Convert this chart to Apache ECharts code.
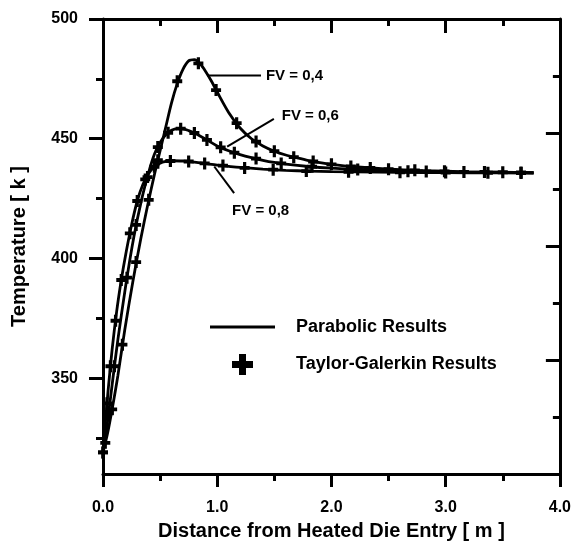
<!DOCTYPE html>
<html><head><meta charset="utf-8">
<script src="https://cdn.jsdelivr.net/npm/echarts@6/dist/echarts.min.js"></script>
<style>html,body{margin:0;padding:0;background:#fff}#c{width:574px;height:546px}</style>
</head><body><div id="c"></div>
<script>
// ---------- data ----------
const xTickLabels = ['0.0', '1.0', '2.0', '3.0', '4.0'];
const yTickValues = [350, 400, 450, 500];
const yMinorTickValues = [325, 375, 425, 475];

// Parabolic results (curves)
const fv04X = [0, 0.04, 0.08, 0.13, 0.19, 0.26, 0.33, 0.39, 0.45, 0.5, 0.55, 0.6, 0.65, 0.7, 0.75, 0.8, 0.85, 0.9, 0.95, 1.0, 1.1, 1.2, 1.3, 1.4, 1.5, 1.6, 1.7, 1.8, 1.9, 2.0, 2.2, 2.5, 2.8, 3.2, 3.77];
const fv04Y = [319, 327, 337, 351, 370, 390, 408, 422, 435, 445, 455, 465, 473, 479, 482.5, 483, 481.3, 478, 474, 469.5, 461, 454.5, 450, 447, 444.8, 443.2, 442, 440.9, 440, 439.3, 438.3, 437.3, 436.7, 436.2, 435.8];

const fv06X = [0, 0.04, 0.087, 0.13, 0.2, 0.27, 0.34, 0.4, 0.45, 0.5, 0.55, 0.6, 0.65, 0.7, 0.75, 0.8, 0.9, 1.0, 1.1, 1.2, 1.3, 1.4, 1.5, 1.6, 1.8, 2.0, 2.3, 2.6, 3.0, 3.4, 3.77];
const fv06Y = [319, 332, 350, 366, 389, 409, 425, 436, 443.5, 448.5, 451.7, 453.5, 454.2, 454.1, 453.4, 452.4, 449.8, 447, 445, 443.4, 442.1, 441, 440.1, 439.4, 438.4, 437.7, 437, 436.5, 436.2, 436, 435.8];

const fv08X = [0, 0.02, 0.045, 0.08, 0.12, 0.16, 0.2, 0.25, 0.3, 0.35, 0.4, 0.45, 0.5, 0.55, 0.6, 0.7, 0.8, 0.9, 1.0, 1.2, 1.4, 1.6, 1.8, 2.0, 2.4, 2.8, 3.2, 3.77];
const fv08Y = [319, 331, 345, 362, 378, 391, 402, 414, 424, 431, 435.5, 438.3, 439.8, 440.5, 440.8, 440.7, 440.2, 439.6, 439, 438, 437.3, 436.8, 436.5, 436.3, 436.1, 435.9, 435.8, 435.7];

// Taylor-Galerkin results (markers)
const tg04X = [0.02, 0.08, 0.17, 0.29, 0.40, 0.48, 0.65, 0.835, 0.99, 1.17, 1.34, 1.50, 1.67, 1.84, 2.0, 2.17, 2.34, 2.5, 2.73, 2.99, 3.34, 3.66];
const tg04Y = [323, 337, 364, 398.5, 424.5, 441, 474, 481.5, 470.3, 456.5, 448.8, 444.8, 442.3, 440.5, 439.3, 438.4, 437.8, 437.3, 436.8, 436.4, 436.1, 435.9];

const tg06X = [0.0, 0.05, 0.1, 0.21, 0.29, 0.39, 0.48, 0.57, 0.68, 0.80, 0.91, 1.03, 1.15, 1.34, 1.56, 1.83, 2.23, 2.67, 2.83, 3.16, 3.5];
const tg06Y = [319, 335.5, 355, 392, 414, 434, 446.5, 452.5, 454.2, 452.4, 449.5, 446.4, 444.2, 441.7, 439.7, 438.3, 437.2, 436.4, 436.3, 436.1, 436];

const tg08X = [0.0, 0.035, 0.065, 0.11, 0.16, 0.235, 0.30, 0.37, 0.45, 0.59, 0.75, 0.89, 1.05, 1.24, 1.49, 1.78, 2.15, 2.6, 3.0, 3.37, 3.66];
const tg08Y = [319, 339.5, 355, 374, 391, 410.5, 424, 433, 438.3, 440.7, 440.5, 439.7, 438.8, 437.8, 437.1, 436.5, 436.2, 436, 435.85, 435.8, 435.7];

const curveNames = ['FV = 0,4', 'FV = 0,6', 'FV = 0,8'];
const legendNames = ['Parabolic Results', 'Taylor-Galerkin Results'];
const xTitle = 'Distance from Heated Die Entry [ m ]';
const yTitle = 'Temperature [ k ]';

// annotation anchors (data coordinates)
const annotations = [
  { text: curveNames[0], from: [0.91, 476.4], to: [1.383, 476.4], label: [1.426, 476.4] },
  { text: curveNames[1], from: [1.087, 446.7], to: [1.496, 458.3], label: [1.565, 459.5] },
  { text: curveNames[2], from: [0.974, 438.4], to: [1.148, 427.3], label: [1.13, 419.8] }
];

// ---------- chart ----------
const zip = (xs, ys) => xs.map((x, i) => [x, ys[i]]);
const FONT = '"Liberation Sans", Arial, sans-serif';
const plus = 'path://M3.4,0H6.6V3.4H10V6.6H6.6V10H3.4V6.6H0V3.4H3.4Z';
const plusBig = 'path://M7,0H14V7H21V14H14V21H7V14H0V7H7Z';
const lineIcon = 'path://M0,0H100V4.4H0Z';

const chart = echarts.init(document.getElementById('c'), null, { renderer: 'canvas' });

const lineSeries = [[fv04X, fv04Y], [fv06X, fv06Y], [fv08X, fv08Y]].map(([xs, ys]) => ({
  type: 'line', name: legendNames[0], data: zip(xs, ys), xAxisIndex: 0, yAxisIndex: 0,
  smooth: 0.3, showSymbol: false, symbol: 'none',
  lineStyle: { color: '#000', width: 2.8 }, itemStyle: { color: '#000' }, z: 3, silent: true
}));
const markSeries = [[tg04X, tg04Y], [tg06X, tg06Y], [tg08X, tg08Y]].map(([xs, ys]) => ({
  type: 'scatter', name: legendNames[1], data: zip(xs, ys), xAxisIndex: 0, yAxisIndex: 0,
  symbol: plus, symbolSize: [10, 12], itemStyle: { color: '#000', opacity: 1 }, z: 4, silent: true
}));

const axisLine = { show: true, lineStyle: { color: '#000', width: 3 } };
const labelStyle = { color: '#000', fontFamily: FONT, fontWeight: 'bold', fontSize: 16 };
const titleStyle = { color: '#000', fontFamily: FONT, fontWeight: 'bold', fontSize: 20 };

chart.setOption({
  animation: false,
  backgroundColor: '#fff',
  grid: { left: 103, right: 11, top: 19, bottom: 67, containLabel: false },
  legend: {
    orient: 'vertical', left: 210, top: 318, padding: 0, itemWidth: 65, itemHeight: 21, itemGap: 18,
    selectedMode: false,
    textStyle: { color: '#000', fontFamily: FONT, fontWeight: 'bold', fontSize: 18, padding: [0, 0, 0, 16] },
    data: [
      { name: legendNames[0], icon: lineIcon, itemStyle: { color: '#000', opacity: 1 } },
      { name: legendNames[1], icon: plusBig, itemStyle: { color: '#000', opacity: 1 } }
    ]
  },
  xAxis: [
    {
      type: 'value', position: 'bottom', min: 0, max: 4, interval: 1,
      axisLine, splitLine: { show: false },
      axisTick: { show: true, inside: false, length: 13, lineStyle: { color: '#000', width: 3 } },
      minorTick: { show: true, splitNumber: 2, length: 7, lineStyle: { color: '#000', width: 3 } },
      axisLabel: { ...labelStyle, margin: 26, formatter: v => xTickLabels[Math.round(v)] },
      name: xTitle, nameLocation: 'middle', nameGap: 47, nameTextStyle: titleStyle
    },
    {
      type: 'value', position: 'top', min: 0, max: 4, interval: 1,
      axisLine, splitLine: { show: false },
      axisTick: { show: true, inside: true, length: 14, lineStyle: { color: '#000', width: 3 } },
      minorTick: { show: true, splitNumber: 2, length: 7, lineStyle: { color: '#000', width: 3 } },
      axisLabel: { show: false }
    }
  ],
  yAxis: [
    {
      type: 'value', position: 'left', offset: 0, min: 310, max: 500,
      axisLine, splitLine: { show: false },
      axisTick: { show: true, inside: false, length: 14, customValues: yTickValues, lineStyle: { color: '#000', width: 3 } },
      axisLabel: { ...labelStyle, margin: 25, customValues: yTickValues },
      name: yTitle, nameLocation: 'middle', nameGap: 74, nameRotate: 90, nameTextStyle: titleStyle
    },
    {
      type: 'value', position: 'left', offset: 0, min: 310, max: 500,
      axisLine: { show: false }, splitLine: { show: false },
      axisTick: { show: true, inside: false, length: 7, customValues: yMinorTickValues, lineStyle: { color: '#000', width: 3 } },
      axisLabel: { show: false }
    },
    {
      type: 'value', position: 'right', offset: 0, min: 0, max: 8, interval: 2,
      axisLine, splitLine: { show: false },
      axisTick: { show: true, inside: true, length: 14, lineStyle: { color: '#000', width: 3 } },
      minorTick: { show: true, splitNumber: 2, length: 7, lineStyle: { color: '#000', width: 3 } },
      axisLabel: { show: false }
    }
  ],
  series: [...lineSeries, ...markSeries]
});

// annotations: leader lines + labels, placed via the data scale
const px = p => chart.convertToPixel({ xAxisIndex: 0, yAxisIndex: 0 }, p);
const graphics = [];
annotations.forEach(a => {
  const f = px(a.from), t = px(a.to), l = px(a.label);
  graphics.push({ type: 'line', shape: { x1: f[0], y1: f[1], x2: t[0], y2: t[1] },
    style: { stroke: '#000', lineWidth: 2 }, z: 10, silent: true });
  graphics.push({ type: 'text', x: l[0], y: l[1],
    style: { text: a.text, fill: '#000', font: 'bold 15px ' + FONT, textAlign: 'left', textVerticalAlign: 'middle' },
    z: 10, silent: true });
});
chart.setOption({ graphic: graphics });
</script>
</body></html>
